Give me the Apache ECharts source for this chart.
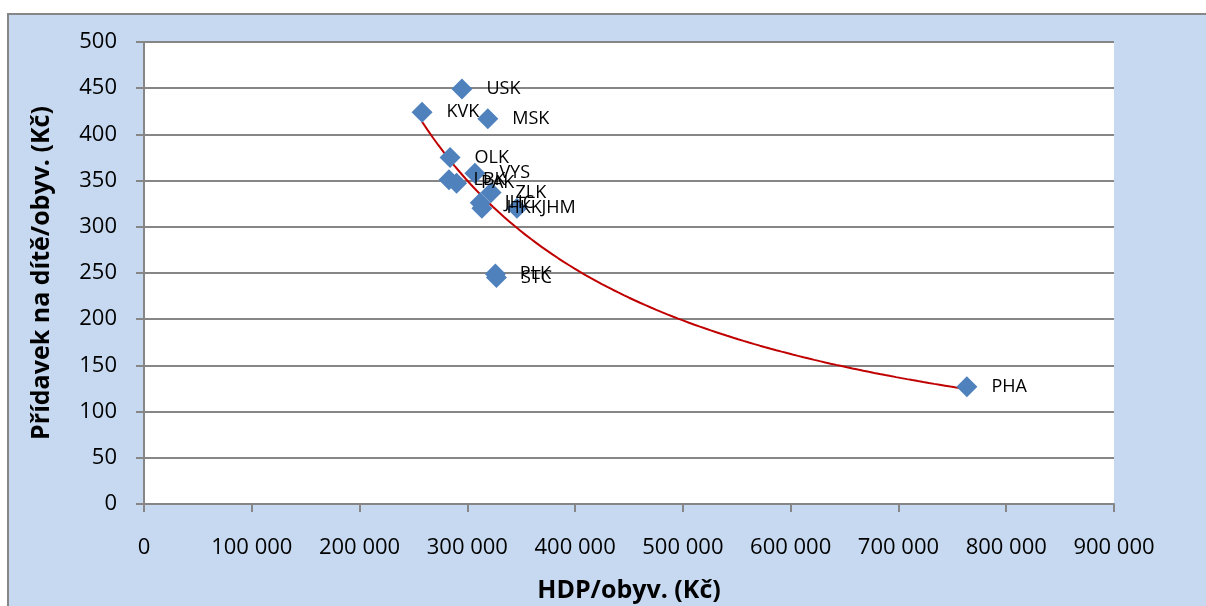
<!DOCTYPE html>
<html><head><meta charset="utf-8">
<script src="https://cdn.jsdelivr.net/npm/echarts@6/dist/echarts.min.js"></script>
<style>html,body{margin:0;padding:0;background:#fff}#c{width:1206px;height:606px}</style>
</head><body><div id="c"></div>
<script>
const regions = ['USK','KVK','MSK','OLK','VYS','LBK','PAK','ZLK','JHC','HKK','JHM','PLK','STC','PHA'];
const hdp = [295000,258000,319000,284000,307000,283000,290000,322000,312000,313500,346000,326000,327000,763500];
const pridavek = [449,424,417,375,358,351,347,337,326,320,320,249,245,127];
const xTicks = [0,100000,200000,300000,400000,500000,600000,700000,800000,900000];
const yTicks = [0,50,100,150,200,250,300,350,400,450,500];

// power trend line fitted to the data (least squares in log-log space)
const lx = hdp.map(Math.log), ly = pridavek.map(Math.log);
const n = lx.length;
const mx = lx.reduce((a,b)=>a+b)/n, my = ly.reduce((a,b)=>a+b)/n;
let sxy=0, sxx=0;
for (let i=0;i<n;i++){ sxy+=(lx[i]-mx)*(ly[i]-my); sxx+=(lx[i]-mx)**2; }
const b = sxy/sxx, a = Math.exp(my - b*mx);
const xmin = Math.min(...hdp), xmax = Math.max(...hdp);
const trend = [];
for (let i=0;i<=100;i++){ const x = xmin + (xmax-xmin)*i/100; trend.push([x, a*Math.pow(x,b)]); }

const fmt = v => String(v).replace(/\B(?=(\d{3})+(?!\d))/g,' ');
const font = '"Open Sans", sans-serif';
const chart = echarts.init(document.getElementById('c'));
chart.setOption({
  animation:false,
  backgroundColor:'#fff',
  graphic:[{type:'rect',z:-10,shape:{x:8,y:14,width:1220,height:620},style:{fill:'#C6D9F0',stroke:'#868686',lineWidth:2}}],
  grid:{left:144,right:92,top:42,bottom:102,show:true,backgroundColor:'#fff',borderWidth:0,outerBoundsMode:'none',containLabel:false},
  xAxis:{type:'value',min:0,max:900000,interval:100000,
    name:'HDP/obyv. (Kč)',nameLocation:'middle',nameGap:74,
    nameTextStyle:{fontFamily:font,fontSize:25,fontWeight:'bold',color:'#000'},
    axisLine:{show:true,onZero:false,lineStyle:{color:'#868686',width:2}},
    axisTick:{show:true,length:8,lineStyle:{color:'#868686',width:2}},
    axisLabel:{fontFamily:font,fontSize:22,color:'#000',margin:33,formatter:v=>fmt(v)},
    splitLine:{show:false}},
  yAxis:{type:'value',min:0,max:500,interval:50,
    name:'Přídavek na dítě/obyv. (Kč)',nameLocation:'middle',nameGap:90,
    nameTextStyle:{fontFamily:font,fontSize:25,fontWeight:'bold',color:'#000'},
    axisLine:{show:true,lineStyle:{color:'#868686',width:2}},
    axisTick:{show:true,length:8,lineStyle:{color:'#868686',width:2}},
    axisLabel:{fontFamily:font,fontSize:22,color:'#000',margin:27,formatter:v=>fmt(v)},
    splitLine:{show:true,lineStyle:{color:'#868686',width:2}}},
  series:[
    {type:'line',data:trend,showSymbol:false,symbol:'none',smooth:false,
      lineStyle:{color:'#C00000',width:2},z:3,silent:true},
    {type:'scatter',symbol:'diamond',symbolSize:21,z:4,
      itemStyle:{color:'#4F81BD',opacity:1},
      data:hdp.map((x,i)=>({value:[x,pridavek[i]],name:regions[i]})),
      label:{show:true,position:'right',distance:14,formatter:p=>p.name,
        fontFamily:font,fontSize:18,color:'#000'},
      labelLayout:{hideOverlap:false}}
  ]
});
</script></body></html>
